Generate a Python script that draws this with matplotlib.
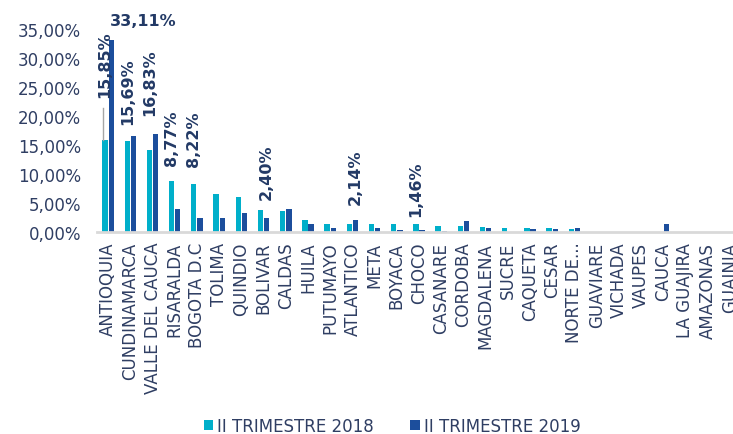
import matplotlib.pyplot as plt
import numpy as np

# departamentos y participacion (%)
depts = ['ANTIOQUIA', 'CUNDINAMARCA', 'VALLE DEL CAUCA', 'RISARALDA', 'BOGOTA D.C',
         'TOLIMA', 'QUINDIO', 'BOLIVAR', 'CALDAS', 'HUILA', 'PUTUMAYO', 'ATLANTICO',
         'META', 'BOYACA', 'CHOCO', 'CASANARE', 'CORDOBA', 'MAGDALENA', 'SUCRE',
         'CAQUETA', 'CESAR', 'NORTE DE...', 'GUAVIARE', 'VICHADA', 'VAUPES', 'CAUCA',
         'LA GUAJIRA', 'AMAZONAS', 'GUAINIA']
t2018 = [15.85, 15.69, 14.2, 8.77, 8.22, 6.5, 6.0, 3.8, 3.65, 2.1, 1.37, 1.37,
         1.37, 1.3, 1.46, 1.1, 1.1, 0.86, 0.74, 0.69, 0.69, 0.46, 0.03, 0.02,
         0.01, 0.02, 0.05, 0.05, 0.0]
t2019 = [33.11, 16.6, 16.83, 3.95, 2.4, 2.4, 3.26, 2.40, 3.9, 1.37, 0.63, 2.14,
         0.69, 0.29, 0.4, 0.17, 1.9, 0.63, 0.0, 0.46, 0.5, 0.74, 0.0, 0.0,
         0.0, 1.3, 0.0, 0.05, 0.0]
series = ['II TRIMESTRE 2018', 'II TRIMESTRE 2019']

# etiquetas de datos: (indice, serie, texto, altura base de la etiqueta)
labels = [(0, 0, '15,85%', 23.2), (1, 0, '15,69%', 18.7), (2, 0, '16,83%', 20.2),
          (3, 0, '8,77%', 11.5), (4, 0, '8,22%', 11.4), (7, 1, '2,40%', 5.7),
          (11, 1, '2,14%', 4.8), (14, 0, '1,46%', 2.8)]

c18 = '#00AFCA'
c19 = '#1C4E9C'
txt = '#2F3E63'
lbl = '#233A66'

fig = plt.figure(figsize=(7.33, 4.35), dpi=100)
ax = fig.add_axes([97 / 733, 1 - 233 / 435, 644 / 733, 203 / 435])

x = np.arange(len(depts))
w = 0.24
off = 0.14
ax.bar(x - off, t2018, w, color=c18, label=series[0])
ax.bar(x + off, t2019, w, color=c19, label=series[1])

ax.set_xlim(-0.5, len(depts) - 0.5)
ax.set_ylim(0, 35)
ax.set_yticks(np.arange(0, 36, 5))
ax.set_yticklabels([f'{v},00%' for v in range(0, 36, 5)])
ax.set_xticks(x)
ax.set_xticklabels(depts, rotation=90)
ax.tick_params(axis='both', length=0, colors=txt, labelsize=12)
ax.tick_params(axis='x', pad=7)
ax.tick_params(axis='y', pad=11.5)

for s in ['top', 'right', 'left']:
    ax.spines[s].set_visible(False)
ax.spines['bottom'].set_color('#D9D9D9')
ax.spines['bottom'].set_linewidth(2)

for i, sidx, t, yl in labels:
    xp = i - off if sidx == 0 else i + off
    ax.text(xp, yl, t, rotation=90, ha='center', va='bottom', fontsize=11.5,
            fontweight='bold', color=lbl)

# linea guia de la primera etiqueta
ax.plot([-off - 0.1, -off - 0.1], [t2018[0], 21.4], color='#A6A6A6', lw=1)

ax.text(1.6, 36.4, '33,11%', ha='center', va='center', fontsize=11.5,
        fontweight='bold', color=lbl, clip_on=False)

leg = fig.legend(loc='center', bbox_to_anchor=(392 / 733, 1 - 427 / 435), ncol=2,
                 frameon=False, fontsize=12, handlelength=0.55, handleheight=0.55,
                 columnspacing=2.2, handletextpad=0.25, borderpad=0)
for t in leg.get_texts():
    t.set_color(txt)

fig.savefig('out.png', dpi=100)
